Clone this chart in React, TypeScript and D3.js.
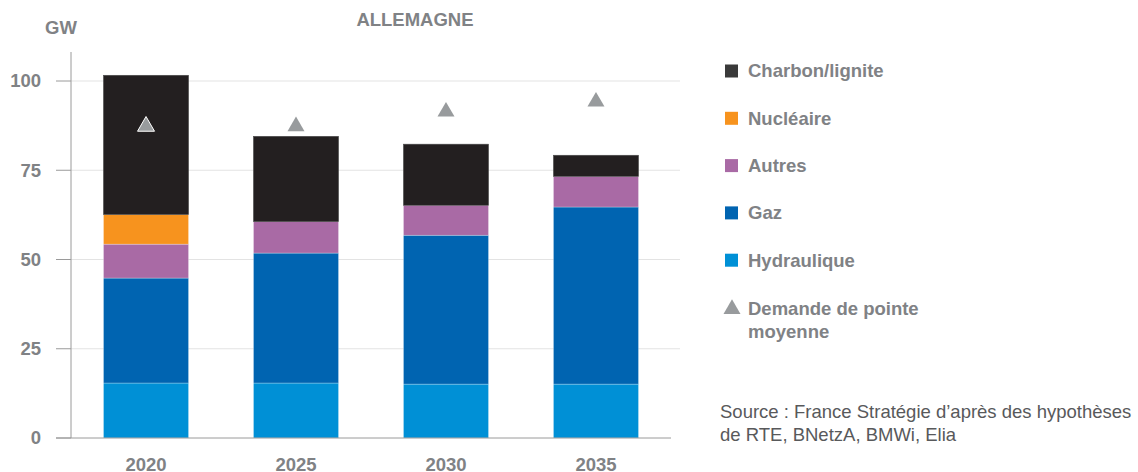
import React from "react";
import * as d3 from "d3";

const years = ["2020", "2025", "2030", "2035"];
const hydraulique = [15.4, 15.4, 15.1, 15.1];
const gaz = [29.4, 36.4, 41.7, 49.6];
const autres = [9.5, 8.8, 8.4, 8.6];
const nucleaire = [8.3, 0, 0, 0];
const charbon = [39.0, 23.9, 17.1, 5.9];
const demande = [87.3, 87.3, 91.4, 94.2];
const yTicks = [0, 25, 50, 75, 100];

const seriesNames = ["Hydraulique", "Gaz", "Autres", "Nucléaire", "Charbon/lignite"];
const seriesValues = [hydraulique, gaz, autres, nucleaire, charbon];
const seriesColors = ["#0090d6", "#0064b1", "#a96aa5", "#f7931e", "#231f20"];
const legendOrder = ["Charbon/lignite", "Nucléaire", "Autres", "Gaz", "Hydraulique"];
const legendColors: Record<string, string> = {
  "Charbon/lignite": "#3a3a3a",
  "Nucléaire": "#f7931e",
  "Autres": "#a96aa5",
  "Gaz": "#0064b1",
  "Hydraulique": "#0090d6",
};

const FONT = "'Liberation Sans', Arial, Helvetica, sans-serif";
const GRAY = "#808285";
const FS = 18.5;

export default function App() {
  const W = 1138, H = 472;
  const x = d3.scaleBand<string>().domain(years).range([71, 671]).paddingInner(0.433).paddingOuter(0.2167);
  const y = d3.scaleLinear().domain([0, 100]).range([438, 81]);

  const table = years.map((yr, i) => {
    const row: Record<string, number | string> = { year: yr };
    seriesNames.forEach((n, k) => (row[n] = seriesValues[k][i]));
    return row;
  });
  const stack = d3.stack<Record<string, number | string>>().keys(seriesNames).value((d, k) => d[k] as number);
  const stacked = stack(table);
  const tri = d3.symbol().type(d3.symbolTriangle).size(125)();

  return (
    <svg width={W} height={H} style={{ position: "absolute", left: 0, top: 0, background: "#fff" }} fontFamily={FONT}>
      {yTicks.filter((t) => t > 0).map((t) => (
        <line key={t} x1={71} x2={680} y1={y(t)} y2={y(t)} stroke="#e3e3e3" strokeWidth={1} />
      ))}
      {stacked.map((s, k) => (
        <g key={s.key}>
          {s.map((d, i) =>
            d[1] - d[0] > 0 ? (
              <rect
                key={i}
                x={x(years[i])}
                width={x.bandwidth()}
                y={y(d[1])}
                height={y(d[0]) - y(d[1])}
                fill={seriesColors[k]}
                stroke={k === 4 ? "#4a4a4a" : "rgba(255,255,255,0.45)"}
                strokeWidth={0.6}
              />
            ) : null
          )}
        </g>
      ))}
      <line x1={71} x2={71} y1={52} y2={438} stroke="#9a9a9a" strokeWidth={1} />
      <line x1={56} x2={671} y1={438} y2={438} stroke="#9a9a9a" strokeWidth={1} />
      {yTicks.map((t) => (
        <g key={t}>
          <line x1={56} x2={71} y1={y(t)} y2={y(t)} stroke="#9a9a9a" strokeWidth={1} />
          <text x={41} y={y(t)} dy="0.35em" textAnchor="end" fontSize={FS} fontWeight="bold" fill={GRAY}>
            {t}
          </text>
        </g>
      ))}
      {years.map((yr) => (
        <text key={yr} x={(x(yr) as number) + x.bandwidth() / 2} y={471} textAnchor="middle" fontSize={FS} fontWeight="bold" fill={GRAY}>
          {yr}
        </text>
      ))}
      {demande.map((v, i) => (
        <path
          key={i}
          d={tri as string}
          transform={`translate(${(x(years[i]) as number) + x.bandwidth() / 2},${y(v)})`}
          fill="#989b9d"
          stroke={i === 0 ? "#ffffff" : "none"}
          strokeWidth={1}
        />
      ))}
      <text x={61} y={34} textAnchor="middle" fontSize={FS} fontWeight="bold" fill={GRAY}>GW</text>
      <text x={415} y={26} textAnchor="middle" fontSize={FS} fontWeight="bold" fill={GRAY}>ALLEMAGNE</text>
      {legendOrder.map((n, i) => (
        <g key={n} transform={`translate(725,${71 + i * 47.3})`}>
          <rect x={0} y={-6.5} width={13} height={13} fill={legendColors[n]} />
          <text x={23} y={0} dy="0.35em" fontSize={FS} fontWeight="bold" fill={GRAY}>{n}</text>
        </g>
      ))}
      <g transform="translate(732,309)">
        <path d={tri as string} fill="#989b9d" />
        <text x={16} y={0} dy="0.35em" fontSize={FS} fontWeight="bold" fill={GRAY}>Demande de pointe</text>
        <text x={16} y={23} dy="0.35em" fontSize={FS} fontWeight="bold" fill={GRAY}>moyenne</text>
      </g>
      <text x={720} y={418} fontSize={FS} fill="#58595b">Source : France Stratégie d’après des hypothèses</text>
      <text x={720} y={441} fontSize={FS} fill="#58595b">de RTE, BNetzA, BMWi, Elia</text>
    </svg>
  );
}
